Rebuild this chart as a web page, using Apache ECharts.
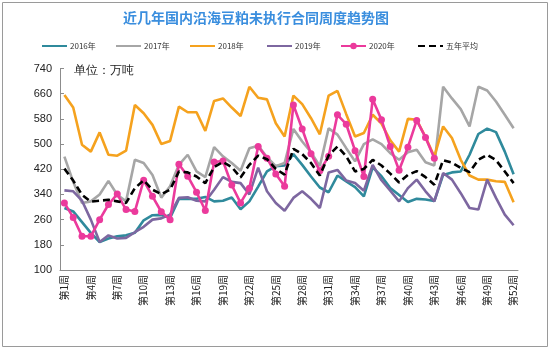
<!DOCTYPE html>
<html><head><meta charset="utf-8">
<script src="https://cdn.jsdelivr.net/npm/echarts@6/dist/echarts.min.js"></script>
<style>html,body{margin:0;padding:0;background:#fff}#c{width:550px;height:350px}</style>
</head><body><div id="c"></div>
<script>
var weeks = [];
for (var i = 1; i <= 52; i++) weeks.push('第' + i + '周');
var yTicks = [100, 180, 260, 340, 420, 500, 580, 660, 740];
var s2016 = [297,286,252,218,189,200,207,210,218,258,274,275,265,326,326,326,332,318,320,330,293,318,365,413,430,432,468,434,397,362,347,400,381,363,334,426,398,360,338,316,326,324,319,402,410,413,466,532,549,538,476,404];
var s2017 = [460,380,313,318,340,383,339,318,450,440,402,330,366,434,466,413,395,490,461,440,415,487,495,458,430,440,548,508,474,430,550,530,487,445,500,515,500,471,450,474,482,442,432,682,645,611,556,682,670,635,593,550];
var s2018 = [656,616,498,476,537,466,463,479,624,598,561,500,510,619,601,601,542,637,645,616,589,682,647,642,566,524,654,627,582,531,654,669,595,524,535,593,565,512,476,580,577,522,460,556,519,450,400,387,387,382,380,315];
var s2019 = [353,350,320,260,189,210,200,202,220,237,260,264,276,329,331,320,318,355,395,380,376,340,425,350,313,288,329,350,326,297,410,418,384,376,352,434,385,352,318,360,387,350,318,408,387,344,297,292,387,329,276,242];
var s2020 = [313,267,207,207,260,308,341,292,286,385,334,285,260,436,398,347,289,443,446,370,313,360,492,455,405,366,624,548,469,415,461,593,563,479,397,642,577,492,417,490,575,521,455,null,null,null,null,null,null,null,null,null];
var sAvg = [422,384,339,317,320,323,318,313,360,385,355,341,355,413,410,397,376,427,443,427,394,434,463,452,421,403,485,468,440,400,464,492,461,413,421,450,432,406,378,402,414,395,371,449,441,424,411,450,466,449,413,376];
var names = ['2016年','2017年','2018年','2019年','2020年','五年平均'];
var colors = ['#2f8a9c','#a6a6a6','#f5a21e','#7d67a0','#eb3a9c','#000000'];
var legendLeft = [36, 110, 184, 261, 335, 412];

var chart = echarts.init(document.getElementById('c'), null, {renderer: 'canvas'});
var font = '"Noto Sans CJK SC", "Liberation Sans", sans-serif';
function lineSeries(idx, data, extra) {
  var s = {
    name: names[idx], type: 'line', data: data, symbol: 'none', smooth: false,
    lineStyle: {color: colors[idx], width: 2.6},
    itemStyle: {color: colors[idx]}, z: 2 + idx, connectNulls: false
  };
  for (var k in extra) s[k] = extra[k];
  return s;
}
var legends = names.map(function (n, i) {
  return {
    data: [n], left: legendLeft[i], top: 37, itemWidth: 25, itemHeight: 8, itemGap: 0,
    itemStyle: i === 4 ? {} : {opacity: 0},
    textStyle: {fontSize: 8, color: '#333', fontFamily: font, padding: [0, 0, 0, -2]}
  };
});
chart.setOption({
  animation: false,
  backgroundColor: '#fff',
  title: {
    text: '近几年国内沿海豆粕未执行合同周度趋势图', left: 118, top: 6,
    textStyle: {fontSize: 14, fontWeight: 'bold', color: '#3a8ede', fontFamily: font}
  },
  legend: legends,
  graphic: [
    {type: 'rect', shape: {x: 2.5, y: 2.5, width: 545, height: 344}, style: {fill: 'none', stroke: '#9a9a9a', lineWidth: 1}, silent: true},
    {type: 'text', left: 74, top: 65, style: {text: '单位：万吨', fontSize: 12, fill: '#222', font: '12px ' + font}}
  ],
  grid: {left: 60, right: 32, top: 68.5, bottom: 80},
  xAxis: {
    type: 'category', data: weeks, boundaryGap: true,
    axisLine: {lineStyle: {color: '#8c8c8c', width: 1}},
    axisTick: {inside: true, length: 4, interval: 0, lineStyle: {color: '#8c8c8c'}},
    axisLabel: {interval: 2, rotate: 90, fontSize: 10, color: '#222', fontFamily: font, margin: 5}
  },
  yAxis: {
    type: 'value', min: yTicks[0], max: yTicks[yTicks.length - 1], interval: 80,
    axisLine: {show: true, lineStyle: {color: '#8c8c8c'}},
    axisTick: {show: true, inside: true, length: 4, lineStyle: {color: '#8c8c8c'}},
    splitLine: {show: false},
    axisLabel: {fontSize: 11, color: '#222', fontFamily: 'Liberation Sans, sans-serif', margin: 8}
  },
  series: [
    lineSeries(0, s2016, {}),
    lineSeries(1, s2017, {}),
    lineSeries(2, s2018, {}),
    lineSeries(3, s2019, {}),
    lineSeries(4, s2020, {symbol: 'circle', symbolSize: 7, showSymbol: true, showAllSymbol: true}),
    lineSeries(5, sAvg, {lineStyle: {color: '#000', width: 2.6, type: [7, 4]}})
  ]
});
</script></body></html>
